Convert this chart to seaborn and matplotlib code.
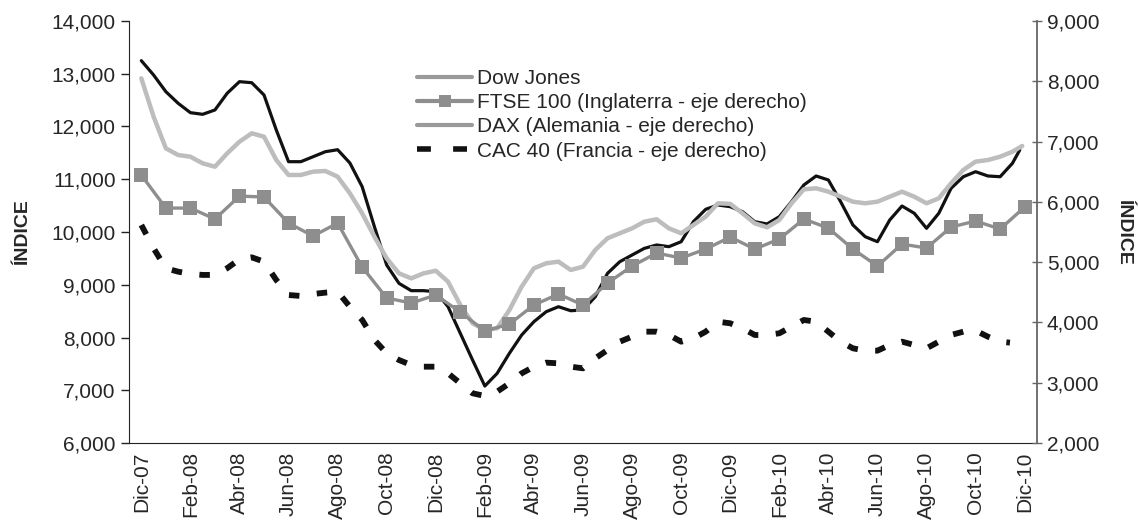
import numpy as np
import matplotlib
matplotlib.use("Agg")
import matplotlib.pyplot as plt
from matplotlib.lines import Line2D
from matplotlib.ticker import FuncFormatter, FixedLocator
import seaborn as sns

# categorias mensuales (Dic-07 ... Dic-10)
meses = ["Dic-07", "Ene-08", "Feb-08", "Mar-08", "Abr-08", "May-08", "Jun-08", "Jul-08",
         "Ago-08", "Sep-08", "Oct-08", "Nov-08", "Dic-08", "Ene-09", "Feb-09", "Mar-09",
         "Abr-09", "May-09", "Jun-09", "Jul-09", "Ago-09", "Sep-09", "Oct-09", "Nov-09",
         "Dic-09", "Ene-10", "Feb-10", "Mar-10", "Abr-10", "May-10", "Jun-10", "Jul-10",
         "Ago-10", "Sep-10", "Oct-10", "Nov-10", "Dic-10"]

# FTSE 100, cierre mensual (eje derecho)
ftse = [6444, 5897, 5897, 5715, 6096, 6080, 5648, 5433, 5648, 4919, 4405, 4322, 4454,
        4172, 3857, 3973, 4289, 4471, 4289, 4653, 4935, 5151, 5068, 5217, 5416,
        5217, 5383, 5715, 5565, 5217, 4935, 5300, 5234, 5582, 5682, 5549, 5914]

# Dow Jones (eje izquierdo), lecturas cada medio mes
dow = [13248, 12976, 12660, 12440, 12262, 12231, 12313, 12630, 12850, 12830, 12597, 11934,
       11333, 11333, 11427, 11522, 11560, 11308, 10859, 10100, 9374, 9027, 8888, 8888,
       8869, 8584, 8079, 7573, 7080, 7320, 7700, 8047, 8300, 8489, 8584, 8508,
       8521, 8773, 9217, 9437, 9564, 9690, 9754, 9722, 9816, 10196, 10430, 10512,
       10480, 10385, 10196, 10152, 10290, 10575, 10891, 11062, 10986, 10575, 10133, 9911,
       9816, 10227, 10493, 10355, 10070, 10355, 10828, 11048, 11143, 11062, 11048, 11302,
       11555]
dow_x = list(np.arange(0, 36, 0.5)) + [35.8]

# DAX (eje derecho)
dax = [8049, 7413, 6888, 6777, 6749, 6639, 6583, 6805, 6998, 7137, 7081, 6694,
       6446, 6446, 6501, 6512, 6418, 6142, 5810, 5422, 5063, 4814, 4731, 4814,
       4858, 4676, 4290, 3986, 3875, 3903, 4206, 4593, 4898, 4981, 5008, 4870,
       4925, 5202, 5396, 5479, 5561, 5671, 5711, 5561, 5479, 5616, 5755, 5976,
       5967, 5810, 5644, 5578, 5699, 5976, 6208, 6225, 6169, 6086, 6003, 5976,
       6003, 6086, 6169, 6086, 5976, 6059, 6307, 6529, 6667, 6694, 6749, 6832,
       6927]
dax_x = list(np.arange(0, 36, 0.5)) + [35.9]

# CAC 40 (eje derecho)
cac = [5616, 5230, 4898, 4842, 4804, 4788, 4788, 4900, 5047, 5080, 5008, 4704,
       4455, 4439, 4472, 4494, 4510, 4261, 4041, 3709, 3488, 3377, 3294, 3266,
       3266, 3156, 2990, 2825, 2780, 2852, 2990, 3156, 3266, 3333, 3322, 3266,
       3239, 3405, 3543, 3681, 3764, 3847, 3847, 3792, 3681, 3737, 3847, 4012,
       3986, 3903, 3792, 3792, 3820, 3930, 4041, 4012, 3847, 3681, 3571, 3532,
       3532, 3626, 3681, 3626, 3571, 3681, 3792, 3847, 3864, 3764, 3681, 3665]
cac_x = list(np.arange(0, 35.5, 0.5)) + [35.4]

sns.set_style("white")
plt.rcParams['font.family'] = ['Liberation Sans', 'DejaVu Sans']

fig = plt.figure(figsize=(11.38, 5.22), dpi=100)
ax = fig.add_axes([0.1134, 0.1513, 0.7978, 0.8085])
ax2 = ax.twinx()

sns.lineplot(x=dow_x, y=dow, ax=ax, color="#111111", lw=2.3, zorder=3)
sns.lineplot(x=dax_x, y=dax, ax=ax2, color="#bdbdbd", lw=3.2, zorder=2)
sns.lineplot(x=list(range(len(ftse))), y=ftse, ax=ax2, color="#8e8e8e", lw=2.4,
             marker="s", markersize=10, markeredgewidth=0, zorder=3)
sns.lineplot(x=cac_x, y=cac, ax=ax2, color="#111111", lw=4.2,
             linestyle=(0, (1.8, 3.0)), zorder=4)

ax.set_xlim(-0.5, 36.5)
ax.set_ylim(6000, 14000)
ax2.set_ylim(2000, 9000)
ax.set_yticks(np.arange(6000, 14001, 1000))
ax2.set_yticks(np.arange(2000, 9001, 1000))
fmt = FuncFormatter(lambda v, p: f"{v:,.0f}")
ax.yaxis.set_major_formatter(fmt)
ax2.yaxis.set_major_formatter(fmt)

ax.xaxis.set_major_locator(FixedLocator(np.arange(-0.5, 37, 1)))
ax.set_xticklabels([])
ax.set_xticks(range(0, 37, 2), minor=True)
ax.set_xticklabels(meses[::2], minor=True, rotation=90, fontsize=15)
ax.tick_params(axis="x", which="major", length=6, width=1, direction="out", color="#222222")
ax.tick_params(axis="x", which="minor", length=0, pad=6)
ax.tick_params(axis="y", length=6, width=1, direction="out", labelsize=15, color="#222222")
ax2.tick_params(axis="y", length=7, width=1, direction="inout", labelsize=15, color="#666666")

for s in ["top"]:
    ax.spines[s].set_visible(False)
    ax2.spines[s].set_visible(False)
ax.spines["left"].set_color("#222222")
ax.spines["bottom"].set_color("#222222")
ax2.spines["right"].set_color("#666666")
ax2.spines["right"].set_linewidth(1.3)
ax2.spines["left"].set_visible(False)
ax2.spines["bottom"].set_visible(False)
ax.spines["right"].set_visible(False)

ax.set_ylabel("ÍNDICE", fontsize=14, fontweight="bold", labelpad=15)
ax2.set_ylabel("ÍNDICE", fontsize=14, fontweight="bold", rotation=-90, labelpad=24)
ax.set_xlabel("")
ax2.set_xlabel("")

handles = [
    Line2D([], [], color="#9a9a9a", lw=3),
    Line2D([], [], color="#8e8e8e", lw=3, marker="s", markersize=9, markeredgewidth=0),
    Line2D([], [], color="#9a9a9a", lw=3),
    Line2D([], [], color="#111111", lw=4, linestyle=(0, (2.5, 4.0))),
]
labels = ["Dow Jones", "FTSE 100 (Inglaterra - eje derecho)",
          "DAX (Alemania - eje derecho)", "CAC 40 (Francia - eje derecho)"]
leg = ax2.legend(handles, labels, loc="upper left", bbox_to_anchor=(0.3575, 0.888),
                 bbox_transform=fig.transFigure, frameon=False, fontsize=15,
                 handlelength=2.65, handletextpad=0.2, labelspacing=0.25, borderpad=0)
ax2.set_zorder(ax.get_zorder() + 1)

fig.savefig("out.png", dpi=100)
